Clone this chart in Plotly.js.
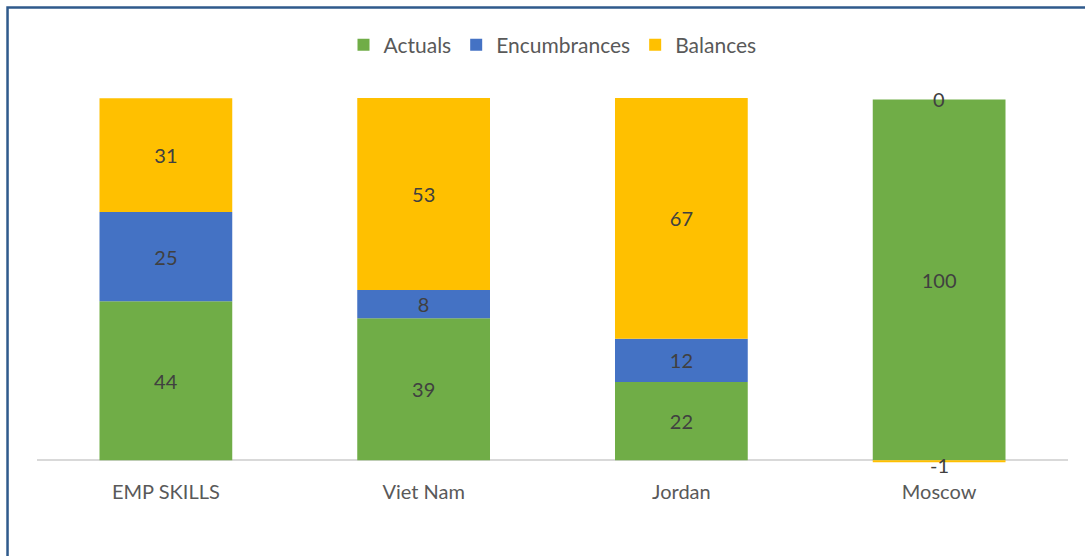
<!DOCTYPE html>
<html><head><meta charset="utf-8">
<script src="https://cdn.plot.ly/plotly-3.0.1.min.js"></script>
<style>html,body{margin:0;padding:0;background:#fff}#chart{width:1085px;height:556px}</style>
</head><body><div id="chart"></div>
<script>
const categories = ["EMP SKILLS", "Viet Nam", "Jordan", "Moscow"];
const actuals = [43.9, 39.2, 21.6, 99.6];
const encumbrances = [24.6, 7.8, 11.9, 0];
const balances = [31.4, 53.0, 66.5, -0.6];

const FAM = "Lato, 'Open Sans', sans-serif";
const labelFont = {family: FAM, size: 20, color: "#404040"};
const fmt = v => String(Math.round(v));

function bar(name, vals, color, hideIdx) {
  return {
    type: "bar", name: name, x: categories, y: vals,
    marker: {color: color, line: {width: 0}},
    text: vals.map(fmt),
    textposition: vals.map((v, i) => hideIdx.includes(i) ? "none" : "inside"),
    insidetextanchor: "middle",
    textangle: 0,
    textfont: labelFont,
    constraintext: "none",
    hoverinfo: "x+y"
  };
}

const traces = [
  bar("Actuals", actuals, "#70AD47", []),
  bar("Encumbrances", encumbrances, "#4472C4", [3]),
  bar("Balances", balances, "#FFC000", [3])
];

// labels for the zero / tiny Moscow segments, placed through the data scale
const annotations = [
  {x: categories[3], y: actuals[3] + encumbrances[3], text: fmt(encumbrances[3]), showarrow: false,
   font: labelFont, yanchor: "middle", yshift: 0},
  {x: categories[3], y: balances[3], text: fmt(balances[3]), showarrow: false,
   font: labelFont, yanchor: "middle", yshift: -3}
];

const L = 36.5, R = 1068.5, T = 98, B = 471;
const W = 1085, H = 556;
const pw = R - L, ph = B - T;
const px = p => (p - L) / pw;
const py = p => (B - p) / ph;

const layout = {
  width: W, height: H,
  margin: {l: L, r: W - R, t: T, b: H - B, pad: 0},
  paper_bgcolor: "#ffffff", plot_bgcolor: "#ffffff",
  barmode: "relative",
  bargap: 0.485,
  showlegend: true,
  legend: {orientation: "h", x: 0.5, xanchor: "center", y: py(45), yanchor: "middle",
           font: {family: FAM, size: 21, color: "#595959"},
           traceorder: "normal", itemwidth: 30},
  font: {family: FAM, color: "#595959"},
  xaxis: {showgrid: false, showline: false, zeroline: false, ticks: "",
          tickfont: {family: FAM, size: 20, color: "#595959"},
          ticklabelstandoff: 7, fixedrange: true},
  yaxis: {range: [-3, 100], showgrid: false, showline: false, showticklabels: false,
          zeroline: true, zerolinecolor: "#D9D9D9", zerolinewidth: 1.5, ticks: "", fixedrange: true},
  annotations: annotations,
  shapes: [
    {type: "rect", xref: "paper", yref: "paper", x0: px(7), x1: px(1200), y0: py(700), y1: py(7.5),
     line: {color: "#2F5A8C", width: 2.5}, fillcolor: "rgba(0,0,0,0)", layer: "above"}
  ]
};

Plotly.newPlot("chart", traces, layout, {displayModeBar: false, staticPlot: true});
</script></body></html>
